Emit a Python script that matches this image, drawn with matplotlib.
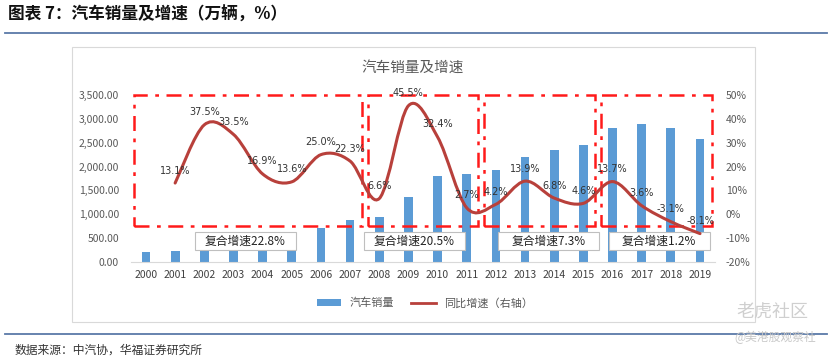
import matplotlib
matplotlib.use("Agg")
from matplotlib import pyplot as plt
from matplotlib.path import Path
from matplotlib.patches import PathPatch, Rectangle, Patch
from matplotlib.lines import Line2D
from matplotlib.ticker import FuncFormatter

plt.rcParams['font.family'] = ['Noto Sans CJK SC', 'DejaVu Sans']

# data
years = [str(y) for y in range(2000, 2020)]
sales = [208.9, 236.4, 324.8, 439.1, 507.1, 575.8, 721.6, 879.2, 938.1, 1364.5,
         1806.2, 1850.5, 1930.6, 2198.4, 2349.2, 2459.8, 2802.8, 2887.9, 2808.1, 2576.9]
growth_years = years[1:]
growth = [13.1, 37.5, 33.5, 16.9, 13.6, 25.0, 22.3, 6.6, 45.5, 32.4,
          2.7, 4.2, 13.9, 6.8, 4.6, 13.7, 3.6, -3.1, -8.1]
# compound growth periods (first year, last year, label)
periods = [("2000", "2007", "复合增速22.8%"),
           ("2008", "2011", "复合增速20.5%"),
           ("2012", "2015", "复合增速7.3%"),
           ("2016", "2019", "复合增速1.2%")]
# small horizontal nudges of the label boxes (in categories)
label_shift = [-0.1, -0.3, 0.3, 0.1]

bar_color = "#5B9BD5"
line_color = "#B8403B"
box_red = "#FF1A1A"
grey = "#595959"

fig = plt.figure(figsize=(8.3, 3.58), dpi=100)

# page decorations
fig.text(0.010, 0.960, "图表 7：汽车销量及增速（万辆，%）", fontsize=12,
         fontweight="bold", va="center", ha="left", color="#111111")
fig.add_artist(Line2D([0.006, 0.996], [1 - 33/358, 1 - 33/358], color="#5A7AA8", lw=1.3))
fig.add_artist(Line2D([0.006, 0.996], [1 - 334/358, 1 - 334/358], color="#5A7AA8", lw=1.3))
fig.text(0.018, 1 - 350/358, "数据来源：中汽协，华福证券研究所", fontsize=8.5,
         va="center", ha="left", color="#333333")
fig.add_artist(Rectangle((72/830, 1 - 322/358), (755 - 72)/830, (322 - 47)/358,
                         fill=False, edgecolor="#D9D9D9", lw=0.8))
fig.text(413/830, 1 - 68/358, "汽车销量及增速", fontsize=10.5, ha="center",
         va="center", color=grey)

ax = fig.add_axes([131.4/830, 1 - 262/358, (714.6 - 131.4)/830, (262 - 95)/358])
ax2 = ax.twinx()

x = list(range(len(years)))
ax.bar(x, sales, width=0.3, color=bar_color, zorder=2)
ax.set_xlim(-0.5, len(years) - 0.5)
ax.set_ylim(0, 3500)
ax.set_yticks(range(0, 3501, 500))
ax.yaxis.set_major_formatter(FuncFormatter(lambda v, p: f"{v:,.2f}"))
ax.set_xticks(x)
ax.set_xticklabels(years)
ax.tick_params(axis="y", length=0, pad=9, labelsize=7.5, labelcolor=grey)
ax.tick_params(axis="x", length=0, pad=6, labelsize=7.5, labelcolor="#404040")
for s in ["top", "left", "right"]:
    ax.spines[s].set_visible(False)
ax.spines["bottom"].set_color("#D9D9D9")

ax2.set_ylim(-20, 50)
ax2.set_yticks(range(-20, 51, 10))
ax2.yaxis.set_major_formatter(FuncFormatter(lambda v, p: f"{v:.0f}%"))
ax2.tick_params(axis="y", length=0, pad=8, labelsize=7.5, labelcolor=grey)
for s in ax2.spines.values():
    s.set_visible(False)

# smoothed line through the growth points (Excel-style bezier)
gx = [years.index(y) for y in growth_years]
pts = list(zip(gx, growth))
verts = [pts[0]]
codes = [Path.MOVETO]
for i in range(len(pts) - 1):
    p0 = pts[i - 1] if i > 0 else pts[i]
    p1 = pts[i]
    p2 = pts[i + 1]
    p3 = pts[i + 2] if i + 2 < len(pts) else pts[i + 1]
    c1 = (p1[0] + (p2[0] - p0[0]) / 6, p1[1] + (p2[1] - p0[1]) / 6)
    c2 = (p2[0] - (p3[0] - p1[0]) / 6, p2[1] - (p3[1] - p1[1]) / 6)
    verts += [c1, c2, p2]
    codes += [Path.CURVE4] * 3
ax2.add_patch(PathPatch(Path(verts, codes), fill=False, edgecolor=line_color,
                        lw=2.2, zorder=4, capstyle="round"))
for xi, g in zip(gx, growth):
    ax2.annotate(f"{g:.1f}%", (xi, g), xytext=(0, 9), textcoords="offset points",
                 ha="center", va="center", fontsize=7, color="#333333",
                 family=["DejaVu Sans"], zorder=6)

# dashed boxes and compound growth labels
for (start, end, label), dx in zip(periods, label_shift):
    i0, i1 = years.index(start), years.index(end)
    ax.add_patch(Rectangle((i0 - 0.4, 760), (i1 - i0) + 0.8, 3500 - 760, fill=False,
                           edgecolor=box_red, lw=1.8, linestyle=(0, (6, 3, 1.5, 3)),
                           zorder=5, clip_on=False))
    cx = (i0 + i1) / 2 + dx
    ax.add_patch(Rectangle((cx - 1.73, 250), 3.46, 380, facecolor="white",
                           edgecolor="#BFBFBF", lw=0.8, zorder=6))
    ax.text(cx, 440, label, ha="center", va="center", fontsize=8.5,
            color="#222222", zorder=7)

handles = [Patch(facecolor=bar_color, edgecolor="none"),
           Line2D([], [], color=line_color, lw=2.0)]
fig.legend(handles, ["汽车销量", "同比增速（右轴）"], loc="center",
           bbox_to_anchor=(425/830, 1 - 303/358), ncol=2, frameon=False,
           fontsize=8, labelcolor=grey, handlelength=2.2, handleheight=0.5,
           columnspacing=1.5)

# watermarks
fig.text(772/830, 1 - 312/358, "老虎社区", fontsize=13, color="#CFCFCF",
         ha="center", va="center")
fig.text(775/830, 1 - 337/358, "@美港股观察社", fontsize=8.5, color="#C8C8C8",
         ha="center", va="center")

fig.savefig("out.png", dpi=100)
